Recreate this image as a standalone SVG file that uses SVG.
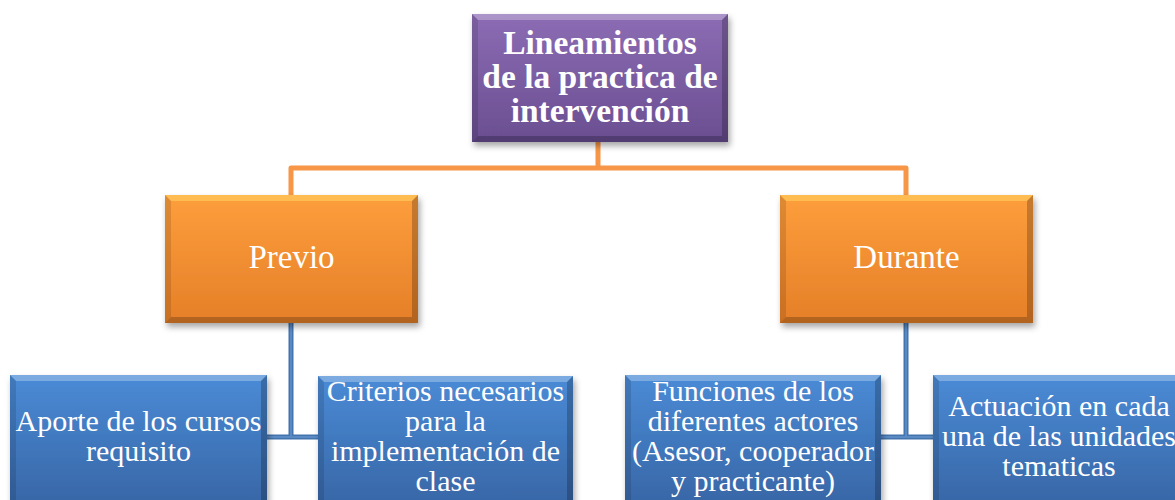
<svg xmlns="http://www.w3.org/2000/svg" width="1175" height="500" viewBox="0 0 1175 500">
<defs>
<linearGradient id="gP" x1="0" y1="0" x2="0" y2="1"><stop offset="0" stop-color="#8c6cb4"/><stop offset="1" stop-color="#6a4e91"/></linearGradient>
<linearGradient id="gO" x1="0" y1="0" x2="0" y2="1"><stop offset="0" stop-color="#fd9e3c"/><stop offset="1" stop-color="#e57f28"/></linearGradient>
<linearGradient id="gB" x1="0" y1="0" x2="0" y2="1"><stop offset="0" stop-color="#4a8bd6"/><stop offset="1" stop-color="#3866a6"/></linearGradient>
<filter id="sh" x="-10%" y="-10%" width="125%" height="130%"><feDropShadow dx="2" dy="4" stdDeviation="3" flood-color="#000" flood-opacity="0.35"/></filter>
<style>
.t{font-family:"Liberation Serif","Times New Roman",serif;fill:#fff;text-anchor:middle}
.tb{font-weight:bold;font-size:33.5px}
.to{font-size:33px}
.tl{font-size:30px}
.hi{fill:#fff;opacity:0.28}
.lo{fill:#000;opacity:0.22}
.sd{fill:#000;opacity:0.12}
.oc{fill:none;stroke:#f79646;stroke-width:5;stroke-linejoin:round}
.bc{fill:none;stroke:#4474ad;stroke-width:5}
.bci{fill:none;stroke:#5a8ac4;stroke-width:2}
</style>
</defs>
<g id="connectors">
<path class="oc" d="M598,142 V168 H291 V195 M598,168 H906 V195"/>
<path class="bc" d="M291,323 V437 M267,437 H318 M906,323 V437 M881,437 H933"/>
<path class="bci" d="M291,323 V437 M267,437 H318 M906,323 V437 M881,437 H933"/>
</g>
<g id="n-root">
<rect x="472" y="14" width="256" height="128" fill="url(#gP)" filter="url(#sh)"/>
<polygon class="hi" points="472,14 728,14 722,20 478,20"/>
<polygon class="sd" points="472,14 478,20 478,136 472,142"/>
<polygon class="lo" points="728,14 728,142 722,136 722,20"/>
<polygon class="lo" points="472,142 728,142 722,136 478,136"/>
<text class="t tb"><tspan x="600" y="54">Lineamientos</tspan><tspan x="600" y="88">de la practica de</tspan><tspan x="600" y="122">intervención</tspan></text>
</g>
<g id="n-previo">
<rect x="165" y="195" width="253" height="128" fill="url(#gO)" filter="url(#sh)"/>
<polygon fill="#ffd060" opacity="0.6" points="165,195 418,195 412,201 171,201"/>
<polygon class="sd" points="165,195 171,201 171,317 165,323"/>
<polygon class="lo" points="418,195 418,323 412,317 412,201"/>
<polygon class="lo" points="165,323 418,323 412,317 171,317"/>
<text class="t to" x="291.5" y="268">Previo</text>
</g>
<g id="n-durante">
<rect x="780" y="195" width="253" height="128" fill="url(#gO)" filter="url(#sh)"/>
<polygon fill="#ffd060" opacity="0.6" points="780,195 1033,195 1027,201 786,201"/>
<polygon class="sd" points="780,195 786,201 786,317 780,323"/>
<polygon class="lo" points="1033,195 1033,323 1027,317 1027,201"/>
<polygon class="lo" points="780,323 1033,323 1027,317 786,317"/>
<text class="t to" x="906.5" y="268">Durante</text>
</g>
<g id="n-aporte">
<rect x="10" y="375" width="257" height="130" fill="url(#gB)" filter="url(#sh)"/>
<polygon class="hi" points="10,375 267,375 261,381 16,381"/>
<polygon class="sd" points="10,375 16,381 16,505 10,505"/>
<polygon class="lo" points="267,375 267,505 261,505 261,381"/>
<text class="t tl"><tspan x="138.5" y="431">Aporte de los cursos</tspan><tspan x="138.5" y="461">requisito</tspan></text>
</g>
<g id="n-criterios">
<rect x="318" y="376" width="255" height="130" fill="url(#gB)" filter="url(#sh)"/>
<polygon class="hi" points="318,376 573,376 567,382 324,382"/>
<polygon class="sd" points="318,376 324,382 324,506 318,506"/>
<polygon class="lo" points="573,376 573,506 567,506 567,382"/>
<text class="t tl"><tspan x="445.5" y="401">Criterios necesarios</tspan><tspan x="445.5" y="431">para la</tspan><tspan x="445.5" y="461">implementación de</tspan><tspan x="445.5" y="491">clase</tspan></text>
</g>
<g id="n-funciones">
<rect x="625" y="375" width="256" height="130" fill="url(#gB)" filter="url(#sh)"/>
<polygon class="hi" points="625,375 881,375 875,381 631,381"/>
<polygon class="sd" points="625,375 631,381 631,505 625,505"/>
<polygon class="lo" points="881,375 881,505 875,505 875,381"/>
<text class="t tl"><tspan x="753" y="401">Funciones de los</tspan><tspan x="753" y="431">diferentes actores</tspan><tspan x="753" y="461">(Asesor, cooperador</tspan><tspan x="753" y="491">y practicante)</tspan></text>
</g>
<g id="n-actuacion">
<rect x="933" y="375" width="256" height="130" fill="url(#gB)" filter="url(#sh)"/>
<polygon class="hi" points="933,375 1189,375 1183,381 939,381"/>
<polygon class="sd" points="933,375 939,381 939,505 933,505"/>
<text class="t tl"><tspan x="1059" y="416">Actuación en cada</tspan><tspan x="1059" y="446">una de las unidades</tspan><tspan x="1059" y="476">tematicas</tspan></text>
</g>
</svg>
